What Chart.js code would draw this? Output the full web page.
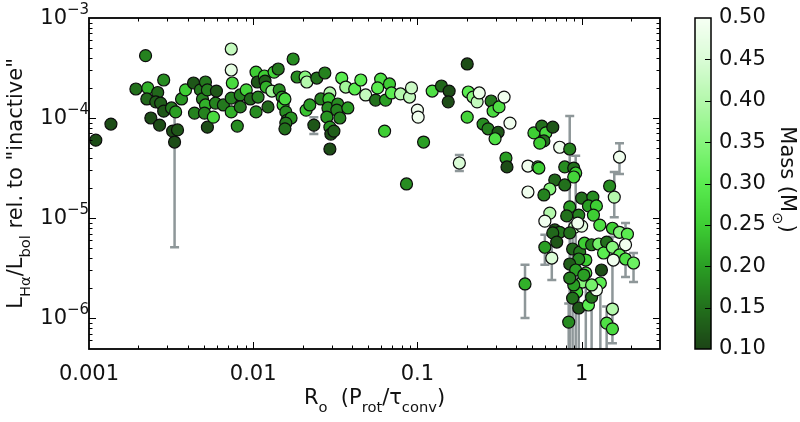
<!DOCTYPE html>
<html><head><meta charset="utf-8">
<script src="https://cdn.jsdelivr.net/npm/chart.js@4/dist/chart.umd.min.js"></script>
<style>html,body{margin:0;padding:0;background:#fff;}#wrap{width:800px;height:422px;}</style>
</head><body><div id="wrap"><canvas id="c" width="800" height="422"></canvas></div>
<script>
// Rossby number (x)
const roValues = [0.0011,0.00136,0.00193,0.00221,0.00228,0.00262,0.00225,0.00255,0.00273,0.00285,
0.00285,0.00238,0.00269,0.00323,0.00346,0.00332,0.00318,0.00337,0.00366,0.00387,
0.00433,0.00439,0.00477,0.00491,0.00512,0.00526,0.00512,0.00505,0.00526,0.00572,
0.00597,0.00589,0.00658,0.00735,0.00735,0.00746,0.00735,0.00735,0.0080,0.00834,
0.00834,0.00907,0.0096,0.0104,0.0104,0.0106,0.0107,0.0117,0.0118,0.0120,
0.0123,0.0130,0.0134,0.0142,0.0144,0.0150,0.0152,0.0156,0.0158,0.0161,
0.0170,0.0158,0.0156,0.0175,0.0185,0.0207,0.0212,0.0210,0.0221,0.0234,
0.0244,0.0273,0.0258,0.0293,0.0289,0.0285,0.0281,0.0293,0.0297,0.0293,
0.0310,0.0327,0.0323,0.0337,0.0377,0.0346,0.0366,0.0415,0.0452,0.0484,
0.0556,0.0597,0.0572,0.064,0.0676,0.0695,0.0789,0.0895,0.092,0.100,
0.101,0.0631,0.109,0.0858,0.123,0.140,0.156,0.154,0.201,0.204,
0.218,0.231,0.238,0.201,0.281,0.289,0.314,0.337,0.251,0.269,
0.310,0.297,0.366,0.180,0.346,0.351,0.471,0.541,0.512,0.572,
0.605,0.667,0.589,0.556,0.735,0.846,0.549,0.789,0.895,0.92,
0.895,0.686,0.789,0.640,0.589,0.471,1.48,1.58,1.70,1.00,
1.17,1.10,1.23,1.18,0.846,0.96,0.811,0.640,0.597,0.686,
0.735,0.667,0.705,0.597,0.658,0.452,0.907,1.00,0.846,0.946,
1.29,1.54,1.70,1.90,0.881,0.973,1.04,1.15,1.27,1.42,
1.36,1.54,1.85,1.70,1.85,2.07,1.06,0.96,0.846,0.92,
1.32,1.06,1.01,0.933,0.881,0.96,1.10,1.15,1.30,1.23,
0.834,1.54,1.42,1.54,1.56,0.895,1.15,0.846,1.03];
// L_Halpha / L_bol (y)
const lumValues = [6.0e-5,8.7e-5,1.95e-4,4.2e-4,2.0e-4,1.8e-4,1.55e-4,1.45e-4,1.41e-4,2.4e-4,
1.17e-4,1.0e-4,8.5e-5,7.4e-5,7.6e-5,5.75e-5,1.26e-4,1.15e-4,1.55e-4,1.91e-4,
2.24e-4,1.12e-4,1.91e-4,1.55e-4,2.29e-4,1.91e-4,1.35e-4,1.12e-4,8.1e-5,1.02e-4,
1.86e-4,1.41e-4,1.35e-4,4.9e-4,3.02e-4,2.24e-4,1.58e-4,1.15e-4,8.3e-5,1.70e-4,
1.29e-4,1.91e-4,1.55e-4,2.88e-4,1.15e-4,2.29e-4,1.62e-4,2.63e-4,2.34e-4,2.04e-4,
1.29e-4,1.86e-4,2.88e-4,3.09e-4,1.91e-4,1.62e-4,1.35e-4,1.55e-4,1.15e-4,9.5e-5,
1.0e-4,8.9e-5,7.8e-5,3.89e-4,2.57e-4,2.57e-4,2.29e-4,1.20e-4,1.35e-4,8.5e-5,
2.51e-4,2.82e-4,1.55e-4,1.78e-4,1.55e-4,1.26e-4,1.02e-4,8.1e-5,6.9e-5,4.9e-5,
7.4e-5,1.38e-4,1.20e-4,1.0e-4,1.26e-4,2.51e-4,2.04e-4,1.95e-4,2.40e-4,1.70e-4,
1.51e-4,2.45e-4,2.0e-4,1.51e-4,2.19e-4,1.78e-4,1.74e-4,1.62e-4,2.0e-4,1.20e-4,
1.02e-4,7.4e-5,5.75e-5,2.19e-5,1.86e-4,2.09e-4,1.86e-4,1.45e-4,3.47e-4,1.82e-4,
1.62e-4,1.45e-4,1.78e-4,1.02e-4,1.48e-4,1.17e-4,1.29e-4,1.62e-4,8.7e-5,7.8e-5,
7.2e-5,6.2e-5,8.9e-5,3.55e-5,3.98e-5,3.24e-5,3.31e-5,3.24e-5,7.1e-5,8.3e-5,
7.1e-5,8.1e-5,5.9e-5,5.6e-5,5.1e-5,4.9e-5,3.16e-5,3.24e-5,3.16e-5,2.82e-5,
2.57e-5,2.40e-5,2.14e-5,1.95e-5,1.70e-5,1.82e-5,2.09e-5,1.62e-5,4.07e-5,1.58e-5,
1.62e-5,1.32e-5,1.32e-5,1.07e-5,1.29e-5,1.07e-5,1.05e-5,1.12e-5,9.3e-6,7.6e-6,
7.2e-6,7.1e-6,5.75e-6,5.1e-6,3.98e-6,2.19e-6,8.1e-6,8.3e-6,7.1e-6,8.9e-6,
8.5e-6,7.9e-6,7.2e-6,6.9e-6,4.9e-6,4.57e-6,5.6e-6,5.4e-6,5.5e-6,5.75e-6,
4.47e-6,5.1e-6,5.4e-6,4.27e-6,3.89e-6,3.55e-6,3.80e-6,3.89e-6,3.47e-6,3.02e-6,
3.02e-6,2.82e-6,2.29e-6,1.82e-6,1.58e-6,1.26e-6,1.35e-6,1.62e-6,2.24e-6,1.91e-6,
9.1e-7,1.23e-6,8.9e-7,7.8e-7,3.80e-6,2.14e-6,2.14e-6,2.51e-6,2.69e-6];
// stellar mass (colour)
const massValues = [0.11,0.11,0.15,0.17,0.22,0.14,0.14,0.13,0.13,0.18,
0.12,0.11,0.11,0.11,0.12,0.11,0.16,0.20,0.19,0.25,
0.12,0.17,0.16,0.17,0.16,0.17,0.22,0.17,0.11,0.27,
0.12,0.17,0.16,0.42,0.47,0.27,0.17,0.22,0.18,0.17,
0.16,0.26,0.14,0.25,0.18,0.12,0.17,0.25,0.13,0.22,
0.14,0.38,0.26,0.16,0.18,0.20,0.25,0.27,0.18,0.17,
0.19,0.16,0.15,0.18,0.18,0.35,0.40,0.24,0.20,0.12,
0.15,0.17,0.17,0.40,0.24,0.18,0.19,0.19,0.11,0.11,
0.13,0.18,0.17,0.17,0.20,0.30,0.38,0.30,0.30,0.42,
0.15,0.28,0.30,0.20,0.25,0.30,0.40,0.42,0.43,0.49,
0.49,0.25,0.20,0.18,0.28,0.14,0.11,0.11,0.11,0.30,
0.35,0.42,0.48,0.26,0.16,0.27,0.28,0.49,0.18,0.17,
0.12,0.28,0.49,0.45,0.20,0.11,0.49,0.33,0.25,0.15,
0.27,0.12,0.15,0.25,0.49,0.17,0.25,0.18,0.15,0.25,
0.26,0.14,0.15,0.35,0.17,0.49,0.18,0.40,0.49,0.15,
0.18,0.20,0.25,0.25,0.20,0.17,0.15,0.40,0.49,0.12,
0.16,0.14,0.12,0.20,0.45,0.22,0.42,0.47,0.15,0.49,
0.28,0.25,0.35,0.30,0.14,0.16,0.25,0.17,0.33,0.15,
0.30,0.35,0.49,0.30,0.28,0.32,0.25,0.18,0.13,0.20,
0.11,0.28,0.35,0.25,0.15,0.12,0.30,0.15,0.30,0.49,
0.18,0.40,0.28,0.27,0.49,0.20,0.33,0.17,0.20];
// error bars
const errRo   = [0.00332,0.0234,0.180,0.452,0.846,1.58,1.70,0.597,0.658,2.07,1.85,1.54,0.881,0.96,1.15,1.30,1.42,0.834,1.06,0.92];
const errLow  = [5.1e-6,6.9e-5,2.95e-5,1.0e-6,1e-8,1.02e-5,2.75e-5,3.4e-6,2.4e-6,2.29e-6,2.57e-6,5.6e-7,1e-8,1e-8,1e-8,1e-8,1e-8,1e-8,1e-8,1e-8];
const errHigh = [1.1e-4,1.02e-4,4.27e-5,3.4e-6,1.05e-4,2.88e-5,5.6e-5,6.8e-6,5.4e-6,4.47e-6,8.9e-6,6.5e-6,6.5e-6,2.0e-6,2.2e-6,3.2e-6,1.3e-6,1.4e-6,4.0e-6,4.2e-5];
// ticks
const xTickValues = [0.001,0.01,0.1,1];
const xTickLabels = ['0.001','0.01','0.1','1'];
const yTickValues = [1e-6,1e-5,1e-4,1e-3];
const yTickExponents = ['\u22126','\u22125','\u22124','\u22123'];
const massTickValues = [0.10,0.15,0.20,0.25,0.30,0.35,0.40,0.45,0.50];

const FONT = "'DejaVu Sans', sans-serif";
Chart.defaults.font.family = FONT;
Chart.defaults.color = '#111';

const massStops = [[0.10,[28,68,22]],[0.15,[34,112,28]],[0.20,[42,158,36]],[0.25,[62,206,52]],[0.30,[90,236,80]],[0.35,[135,245,125]],[0.40,[180,248,172]],[0.45,[218,252,214]],[0.50,[246,255,244]]];
function massColor(m){
  if (m <= massStops[0][0]) return 'rgb('+massStops[0][1].join(',')+')';
  for (let i=1;i<massStops.length;i++){
    if (m <= massStops[i][0]){
      const [m0,c0]=massStops[i-1],[m1,c1]=massStops[i];
      const t=(m-m0)/(m1-m0);
      return 'rgb('+c0.map((v,k)=>Math.round(v+(c1[k]-v)*t)).join(',')+')';
    }
  }
  return 'rgb('+massStops[massStops.length-1][1].join(',')+')';
}

function drawRich(ctx, parts, x, y, size, align){
  const sub = size*0.7, drop = size*0.36;
  let w = 0;
  parts.forEach(p=>{ ctx.font = (p.s?sub:size)+'px '+FONT; w += ctx.measureText(p.t).width; });
  let cx = align==='center' ? x - w/2 : x;
  ctx.textAlign='left'; ctx.textBaseline='alphabetic';
  parts.forEach(p=>{ ctx.font=(p.s?sub:size)+'px '+FONT; ctx.fillText(p.t, cx, y + (p.s?drop:0)); cx += ctx.measureText(p.t).width; });
}

const errorBars = {
  id:'errorBars',
  beforeDatasetsDraw(chart){
    const {ctx, chartArea:a, scales:{x,y}} = chart;
    ctx.save(); ctx.beginPath(); ctx.rect(a.left,a.top,a.right-a.left,a.bottom-a.top); ctx.clip();
    ctx.strokeStyle='#8e9799'; ctx.lineWidth=2.5;
    errRo.forEach((r,i)=>{
      const px=x.getPixelForValue(r), p1=y.getPixelForValue(errLow[i]), p2=y.getPixelForValue(errHigh[i]);
      ctx.beginPath(); ctx.moveTo(px,p1); ctx.lineTo(px,p2);
      ctx.moveTo(px-4.5,p1); ctx.lineTo(px+4.5,p1); ctx.moveTo(px-4.5,p2); ctx.lineTo(px+4.5,p2); ctx.stroke();
    });
    ctx.restore();
  }
};

const frame = {
  id:'frame',
  afterDatasetsDraw(chart){
    const {ctx, chartArea:a, scales:{x,y}} = chart;
    ctx.save(); ctx.strokeStyle='#000'; ctx.lineWidth=1;
    const tick=(v,len,isX)=>{
      if (isX){ const p=Math.round(x.getPixelForValue(v))+0.5; if(p<a.left+1||p>a.right-1) return;
        ctx.beginPath(); ctx.moveTo(p,a.bottom); ctx.lineTo(p,a.bottom-len); ctx.moveTo(p,a.top); ctx.lineTo(p,a.top+len); ctx.stroke(); }
      else { const p=Math.round(y.getPixelForValue(v))+0.5; if(p<a.top+1||p>a.bottom-1) return;
        ctx.beginPath(); ctx.moveTo(a.left,p); ctx.lineTo(a.left+len,p); ctx.moveTo(a.right,p); ctx.lineTo(a.right-len,p); ctx.stroke(); }
    };
    for (let d=-3; d<=0; d++) for (let k=1;k<=9;k++){ const v=k*Math.pow(10,d); if(v<=x.max) tick(v,k===1?7:3.5,true); }
    for (let d=-7; d<=-3; d++) for (let k=1;k<=9;k++){ const v=k*Math.pow(10,d); if(v>=y.min&&v<=y.max) tick(v,k===1?7:3.5,false); }
    ctx.lineWidth=1.8; ctx.strokeRect(a.left,a.top,a.right-a.left,a.bottom-a.top);
    ctx.restore();
  },
  afterDraw(chart){
    const {ctx, chartArea:a, scales:{y,mass}} = chart;
    ctx.save(); ctx.fillStyle='#111';
    yTickValues.forEach((v,i)=>{
      const p=y.getPixelForValue(v);
      ctx.font='21px '+FONT; ctx.textAlign='right'; ctx.textBaseline='middle'; ctx.fillText('10',67,p+1);
      ctx.font='15px '+FONT; ctx.textAlign='left'; ctx.fillText(yTickExponents[i],67,p-8);
    });
    const cbL = mass.left+35, cbW = 16;
    const top = mass.getPixelForValue(0.5), bot = mass.getPixelForValue(0.1);
    for (let py=Math.floor(top); py<bot; py++){
      const m = mass.getValueForPixel(py+0.5);
      ctx.fillStyle=massColor(m); ctx.fillRect(cbL,py,cbW,1);
    }
    ctx.strokeStyle='#000'; ctx.lineWidth=1;
    massTickValues.forEach(v=>{ const p=Math.round(mass.getPixelForValue(v))+0.5; if(p>top+1&&p<bot-1){ctx.beginPath(); ctx.moveTo(cbL+cbW,p); ctx.lineTo(cbL+cbW-6,p); ctx.stroke();} });
    ctx.lineWidth=1.5; ctx.strokeRect(cbL,top,cbW,bot-top);
    ctx.fillStyle='#111';
    drawRich(ctx,[{t:'R'},{t:'o',s:1},{t:'  (P'},{t:'rot',s:1},{t:'/\u03c4'},{t:'conv',s:1},{t:')'}],(a.left+a.right)/2,404,21,'center');
    ctx.save(); ctx.translate(22,(a.top+a.bottom)/2); ctx.rotate(-Math.PI/2);
    drawRich(ctx,[{t:'L'},{t:'H\u03b1',s:1},{t:'/L'},{t:'bol',s:1},{t:' rel. to "inactive"'}],0,0,21,'center');
    ctx.restore();
    ctx.save(); ctx.translate(781,(a.top+a.bottom)/2-4); ctx.rotate(Math.PI/2);
    drawRich(ctx,[{t:'Mass (M'},{t:'\u2299',s:1},{t:')'}],0,0,21,'center');
    ctx.restore();
    ctx.restore();
  }
};

function noPad(s){ s.paddingTop=0; s.paddingBottom=0; s.paddingLeft=0; s.paddingRight=0; }

const points = roValues.map((r,i)=>({x:r,y:lumValues[i]}));
new Chart(document.getElementById('c'),{
  type:'scatter',
  data:{datasets:[{data:points,pointRadius:6,pointHoverRadius:6,
    pointBackgroundColor:massValues.map(massColor),pointBorderColor:'#0d0d0d',pointBorderWidth:1.2}]},
  options:{
    responsive:false, animation:false, devicePixelRatio:1,
    layout:{padding:{top:18,left:0,right:0,bottom:0}},
    plugins:{legend:{display:false},tooltip:{enabled:false}},
    scales:{
      x:{type:'logarithmic',position:'bottom',min:0.001,max:3,
        grid:{display:false,drawTicks:false},border:{display:false},
        afterBuildTicks:s=>{s.ticks=xTickValues.map(v=>({value:v}));},
        ticks:{autoSkip:false,maxRotation:0,padding:13,font:{size:21},color:'#111',callback:(v,i)=>xTickLabels[i]},
        afterFit:s=>{s.height=73; noPad(s);}},
      y:{type:'logarithmic',position:'left',min:4.9e-7,max:1e-3,
        grid:{display:false,drawTicks:false},border:{display:false},
        afterBuildTicks:s=>{s.ticks=yTickValues.map(v=>({value:v}));},
        ticks:{display:false},
        afterFit:s=>{s.width=89; noPad(s);}},
      mass:{type:'linear',axis:'y',position:'right',min:0.1,max:0.5,
        grid:{display:false,drawTicks:false},border:{display:false},
        afterBuildTicks:s=>{s.ticks=massTickValues.map(v=>({value:v}));},
        ticks:{padding:59,font:{size:21},color:'#111',callback:v=>v.toFixed(2)},
        afterFit:s=>{s.width=140; noPad(s);}}
    }
  },
  plugins:[errorBars,frame]
});
</script></body></html>
